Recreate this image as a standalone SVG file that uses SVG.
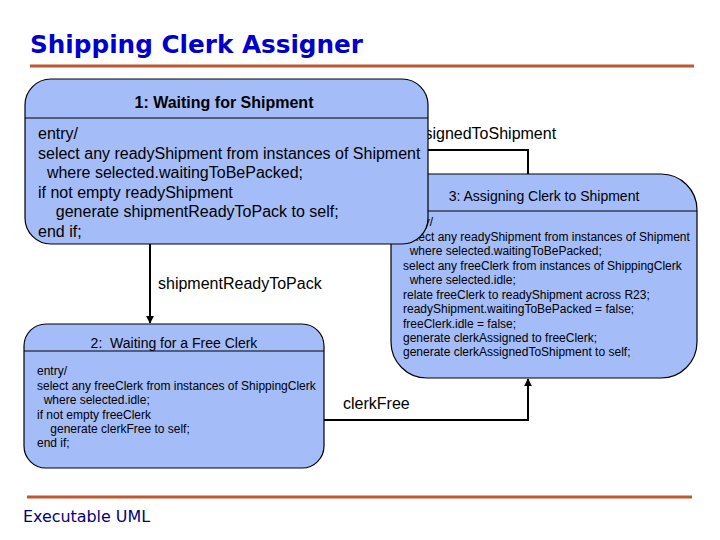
<svg xmlns="http://www.w3.org/2000/svg" width="720" height="540" viewBox="0 0 720 540">
<style>
.state{fill:#a4bcf8;stroke:#000;stroke-width:1.2}
.div{stroke:#000;stroke-width:1.2}
.t{font-family:"Liberation Sans",Arial,sans-serif;fill:#000}
.b1{font-size:16px}
.b2{font-size:12px}
.lbl{font-size:16px}
.conn{fill:none;stroke:#000;stroke-width:2}
.rule{stroke:#c0582f;stroke-width:3}
</style>
<defs>
<marker id="ah" viewBox="0 0 10 10" refX="9" refY="5" markerWidth="4" markerHeight="4" orient="auto">
<path d="M0,0 L10,5 L0,10 z" fill="#000"/>
</marker>
</defs>
<rect width="720" height="540" fill="#fff"/>
<text x="30" y="53" font-family="Tahoma,'DejaVu Sans',sans-serif" font-weight="bold" font-size="24" fill="#0000cc" textLength="333" lengthAdjust="spacingAndGlyphs">Shipping Clerk Assigner</text>
<line class="rule" x1="30" y1="66" x2="694" y2="66"/>
<line class="rule" x1="27" y1="497" x2="692" y2="497"/>
<text x="23" y="522" font-family="Tahoma,'DejaVu Sans',sans-serif" font-size="16" fill="#000080" textLength="127" lengthAdjust="spacingAndGlyphs">Executable UML</text>

<g id="connectors">
<text class="t lbl" x="372" y="139">clerkAssignedToShipment</text>
<polyline class="conn" points="528,174 528,150 420,150" marker-end="url(#ah)"/>
<polyline class="conn" points="150,244 150,323" marker-end="url(#ah)"/>
<text class="t lbl" x="158" y="289">shipmentReadyToPack</text>
<polyline class="conn" points="324,420 528,420 528,379" marker-end="url(#ah)" stroke-width="1.5"/>
<text class="t lbl" x="343" y="409">clerkFree</text>
</g>

<g id="state3">
<rect class="state" x="391" y="174" width="306" height="204" rx="36" ry="36"/>
<line class="div" x1="391" y1="211" x2="697" y2="211"/>
<text class="t" x="544" y="201" font-size="14" text-anchor="middle">3: Assigning Clerk to Shipment</text>
<text class="t b2" xml:space="preserve"><tspan x="403" y="226">entry/</tspan><tspan x="403" y="241">select any readyShipment from instances of Shipment</tspan><tspan x="403" y="255">  where selected.waitingToBePacked;</tspan><tspan x="403" y="270">select any freeClerk from instances of ShippingClerk</tspan><tspan x="403" y="284">  where selected.idle;</tspan><tspan x="403" y="299">relate freeClerk to readyShipment across R23;</tspan><tspan x="403" y="313">readyShipment.waitingToBePacked = false;</tspan><tspan x="403" y="328">freeClerk.idle = false;</tspan><tspan x="403" y="342">generate clerkAssigned to freeClerk;</tspan><tspan x="403" y="356">generate clerkAssignedToShipment to self;</tspan></text>
</g>

<g id="state2">
<rect class="state" x="24" y="324" width="300" height="144" rx="22" ry="22"/>
<line class="div" x1="24" y1="351" x2="324" y2="351"/>
<text class="t" x="174" y="348" font-size="14" text-anchor="middle" xml:space="preserve">2:  Waiting for a Free Clerk</text>
<text class="t b2" xml:space="preserve"><tspan x="37" y="375">entry/</tspan><tspan x="37" y="390">select any freeClerk from instances of ShippingClerk</tspan><tspan x="37" y="404">  where selected.idle;</tspan><tspan x="37" y="419">if not empty freeClerk</tspan><tspan x="37" y="433">    generate clerkFree to self;</tspan><tspan x="37" y="447">end if;</tspan></text>
</g>

<g id="state1">
<rect class="state" x="25" y="79" width="403" height="165" rx="26" ry="26"/>
<line class="div" x1="25" y1="118" x2="428" y2="118"/>
<text class="t" x="224" y="108" font-size="16" font-weight="bold" text-anchor="middle">1: Waiting for Shipment</text>
<text class="t b1" xml:space="preserve"><tspan x="38" y="139">entry/</tspan><tspan x="38" y="159">select any readyShipment from instances of Shipment</tspan><tspan x="38" y="178">  where selected.waitingToBePacked;</tspan><tspan x="38" y="198">if not empty readyShipment</tspan><tspan x="38" y="217">    generate shipmentReadyToPack to self;</tspan><tspan x="38" y="237">end if;</tspan></text>
</g>
</svg>
